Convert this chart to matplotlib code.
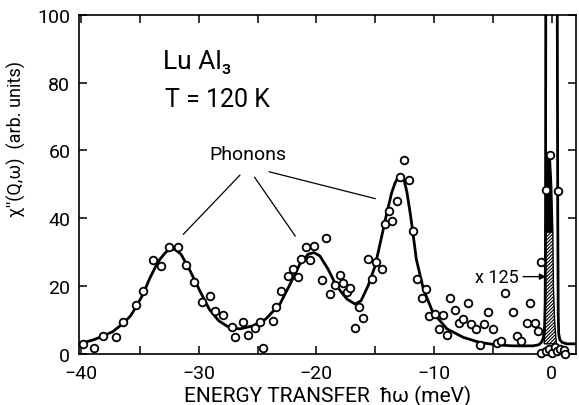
import numpy as np
import matplotlib.pyplot as plt
from matplotlib.ticker import MultipleLocator

plt.rcParams['font.family'] = ['Roboto', 'DejaVu Sans']
plt.rcParams['hatch.linewidth'] = 0.8

# measured points: energy transfer (meV), chi'' (arb. units)
energy = [-39.86, -38.9, -38.16, -37.0, -36.4, -35.3, -34.7, -33.9, -33.2, -32.5,
          -31.8, -31.1, -30.4, -29.7, -29.0, -28.6, -27.9, -27.2, -26.9, -26.2,
          -25.8, -25.2, -24.8, -24.5, -23.7, -23.4, -23.0, -22.4, -22.0, -21.6,
          -21.3, -20.9, -20.5, -20.2, -19.5, -19.2, -18.8, -18.4, -18.0, -17.7,
          -17.4, -17.1, -16.7, -16.4, -16.0, -15.65, -15.3, -14.95, -14.4, -14.2,
          -13.85, -13.55, -13.17, -12.89, -12.52, -12.12, -11.76, -11.45, -11.05, -10.68,
          -10.4, -9.95, -9.6, -9.2, -8.9, -8.62, -8.25, -7.9, -7.55, -7.15,
          -6.88, -6.43, -6.09, -5.78, -5.41, -5.0, -4.65, -4.3, -3.95, -3.28,
          -2.95, -2.62, -2.12, -1.84, -1.45, -1.12, -0.88, -0.51, -0.14, 0.56,
          -0.88, -0.45, -0.2, 0.05, 0.3, 0.43, 0.68, 1.05, 1.17]
chi = [2.9, 1.7, 5.4, 4.9, 9.3, 14.5, 18.5, 27.6, 26.0, 31.4,
       31.4, 26.3, 21.3, 15.2, 17.0, 12.7, 11.4, 8.1, 5.0, 9.3,
       5.6, 7.8, 9.4, 1.8, 9.7, 13.9, 18.6, 23.0, 25.0, 22.7,
       28.1, 31.4, 27.8, 31.7, 21.8, 34.2, 17.6, 20.4, 23.2, 21.0,
       18.4, 19.5, 7.6, 14.0, 10.6, 28.0, 22.2, 27.1, 25.0, 38.2,
       42.1, 39.3, 45.0, 52.1, 57.3, 51.4, 36.4, 22.1, 16.5, 19.1,
       11.1, 11.8, 7.5, 11.6, 5.6, 16.5, 13.0, 9.2, 10.3, 15.1,
       8.9, 7.4, 2.8, 8.8, 12.4, 7.5, 3.1, 3.9, 17.9, 12.3,
       5.2, 3.9, 9.1, 15.0, 9.1, 6.9, 27.2, 48.2, 58.6, 47.9,
       0.3, 0.9, 1.4, 0.3, 2.1, 0.8, 1.6, 1.3, 0.1]

# fitted line
fit_energy = [-40.2, -39.0, -38.2, -37.3, -36.5, -35.8, -35.3, -34.7, -34.2, -33.7,
              -33.3, -32.8, -32.4, -32.0, -31.5, -30.8, -29.9, -29.1, -28.3, -27.4,
              -26.5, -25.4, -24.3, -23.1, -22.3, -21.4, -20.7, -20.2, -19.7, -19.0,
              -18.3, -17.4, -16.7, -16.2, -15.6, -15.0, -14.5, -14.0, -13.6, -13.3,
              -13.0, -12.8, -12.6, -12.3, -12.0, -11.76, -11.5, -10.9, -10.1, -8.9,
              -7.5, -6.1, -4.7, -3.3, -1.6, -1.1, -0.85, -0.7, -0.6, -0.55,
              -0.52, -0.5, -0.48, 0.45, 0.48, 0.52, 0.56, 0.6, 0.7, 0.9,
              1.3, 2.1]
fit_chi = [3.0, 4.1, 5.2, 6.6, 8.8, 11.2, 14.0, 17.8, 22.0, 25.5,
           27.9, 30.0, 30.9, 30.8, 29.4, 25.0, 18.6, 13.2, 9.8, 7.8,
           7.4, 8.3, 10.3, 14.7, 20.1, 26.5, 29.4, 29.9, 28.9, 25.0,
           20.1, 16.2, 14.7, 15.7, 20.1, 26.0, 33.8, 41.7, 47.5, 50.5,
           52.3, 52.6, 52.1, 47.7, 41.0, 34.9, 27.9, 19.1, 12.3, 7.4,
           4.9, 3.4, 2.7, 2.4, 2.4, 2.7, 3.5, 4.8, 8.0, 15.0,
           40.0, 100.0, 130.0, 130.0, 100.0, 40.0, 12.0, 6.0, 4.2, 3.4,
           3.0, 3.0]

# elastic peak, x125 (hatched) and x1 (black) parts
hatch_energy = [-0.63, -0.56, -0.53, -0.5, 0.1, 0.15, 0.25, 0.4]
hatch_chi = [3.0, 8.0, 20.0, 36.0, 36.0, 20.0, 10.0, 3.0]
peak_energy = [-0.5, -0.47, -0.32, -0.12, 0.0, 0.1]
peak_chi = [36.0, 50.0, 57.5, 58.0, 50.0, 36.0]

fig = plt.figure(figsize=(5.79, 4.06), dpi=100)
ax = fig.add_axes([0.1359, 0.1256, 0.8589, 0.8357])

ax.fill(hatch_energy, hatch_chi, facecolor='white', edgecolor='black',
        hatch='//////////', lw=1.0, zorder=2)
ax.fill(peak_energy, peak_chi, color='black', zorder=2)
ax.plot(fit_energy, fit_chi, color='black', lw=2.0, zorder=3)
ax.plot(energy, chi, 'o', mfc='white', mec='black', ms=5.5, mew=1.3,
        clip_on=False, zorder=5)

# labels inside the plot
ax.text(-33.0, 86.4, 'Lu Al₃', fontsize=19, ha='left', va='center')
ax.text(-32.9, 75.2, 'T = 120 K', fontsize=18, ha='left', va='center')
ax.text(-25.8, 59.0, 'Phonons', fontsize=14, ha='center', va='center')
for x0, y0, x1, y1 in [(-26.5, 52.7, -31.3, 35.3),
                       (-25.25, 52.1, -21.8, 34.8),
                       (-24.0, 53.7, -15.0, 45.8)]:
    ax.plot([x0, x1], [y0, y1], color='black', lw=0.9)
ax.annotate('x 125', xy=(-0.48, 22.8), xytext=(-6.5, 22.8), fontsize=13,
            va='center', ha='left',
            arrowprops=dict(arrowstyle='-|>', color='black', lw=1.0,
                            shrinkA=1, shrinkB=0, mutation_scale=9))

ax.set_xlim(-40.2, 2.07)
ax.set_ylim(0, 100)
ax.xaxis.set_major_locator(MultipleLocator(10))
ax.xaxis.set_minor_locator(MultipleLocator(5))
ax.yaxis.set_major_locator(MultipleLocator(20))
ax.tick_params(which='both', direction='in', top=True, right=True,
               length=6, width=1.1, labelsize=14)
ax.tick_params(axis='x', pad=7)
ax.tick_params(axis='y', pad=6)
for s in ax.spines.values():
    s.set_linewidth(1.2)

ax.set_xlabel('ENERGY TRANSFER  ħω (meV)', fontsize=15, labelpad=2)
ax.set_ylabel("χ''(Q,ω)  (arb. units)", fontsize=13)
ax.yaxis.set_label_coords(-0.105, 0.638)

fig.savefig('out.png', dpi=100)
